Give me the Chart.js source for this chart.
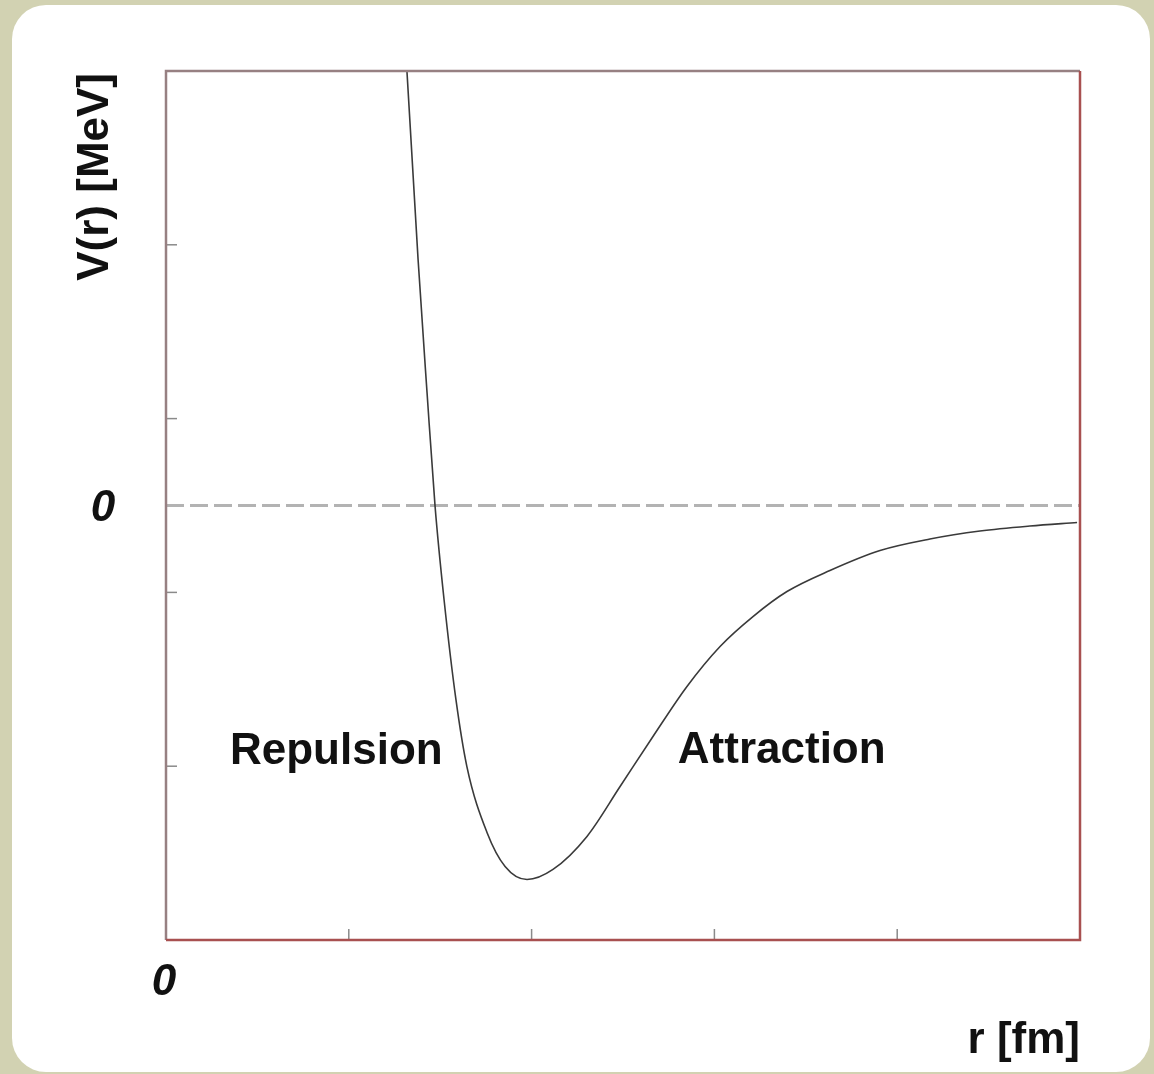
<!DOCTYPE html>
<html>
<head>
<meta charset="utf-8">
<script src="https://cdn.jsdelivr.net/npm/chart.js@4/dist/chart.umd.min.js"></script>
<style>
  html, body { margin: 0; padding: 0; background: #d2d2b2; }
  #wrap { width: 1154px; height: 1074px; }
</style>
</head>
<body>
<div id="wrap"><canvas id="chart" width="1154" height="1074"></canvas></div>
<script>
// potential curve V(r)
const rValues = [1.29, 1.318, 1.379, 1.428, 1.472, 1.521, 1.586, 1.646, 1.756, 1.855, 1.975, 2.117, 2.303, 2.484, 2.664, 2.850, 3.031, 3.211, 3.397, 3.632, 3.906, 4.179, 4.453, 4.726, 4.984];
const vValues = [3.03, 2.5, 1.415, 0.65, -0.006, -0.541, -1.116, -1.502, -1.881, -2.077, -2.152, -2.094, -1.904, -1.617, -1.329, -1.041, -0.811, -0.639, -0.495, -0.374, -0.259, -0.193, -0.147, -0.118, -0.098];

const xTicks = [1, 2, 3, 4];
const yTicks = [-1.5, -0.5, 0.5, 1.5];
const xRange = [0, 5];
const yRange = [-2.5, 2.5];

const regionLabels = [
  { text: 'Repulsion', r: 0.35, v: -1.49 },
  { text: 'Attraction', r: 2.80, v: -1.48 }
];

const points = rValues.map((r, i) => ({ x: r, y: vValues[i] }));

const FONT = '"Liberation Sans", Arial, Helvetica, sans-serif';

const background = {
  id: 'background',
  beforeDraw(chart) {
    const ctx = chart.ctx;
    ctx.save();
    ctx.fillStyle = '#d2d2b2';
    ctx.fillRect(0, 0, chart.width, chart.height);
    ctx.fillStyle = '#ffffff';
    ctx.beginPath();
    ctx.roundRect(12, 5, 1138, 1067, 34);
    ctx.fill();
    ctx.restore();
  }
};

const frame = {
  id: 'frame',
  beforeDatasetsDraw(chart) {
    const { ctx, chartArea: a, scales: { y } } = chart;
    ctx.save();
    // zero line
    ctx.strokeStyle = '#b3b3b3';
    ctx.lineWidth = 3;
    ctx.setLineDash([18, 6]);
    const y0 = y.getPixelForValue(0);
    ctx.beginPath();
    ctx.moveTo(a.left, y0);
    ctx.lineTo(a.right, y0);
    ctx.stroke();
    ctx.restore();
  },
  afterDatasetsDraw(chart) {
    const { ctx, chartArea: a, scales: { x, y } } = chart;
    ctx.save();
    // inward ticks
    ctx.strokeStyle = '#8a8a8a';
    ctx.lineWidth = 1.5;
    xTicks.forEach(t => {
      const px = x.getPixelForValue(t);
      ctx.beginPath();
      ctx.moveTo(px, a.bottom);
      ctx.lineTo(px, a.bottom - 11);
      ctx.stroke();
    });
    yTicks.forEach(t => {
      const py = y.getPixelForValue(t);
      ctx.beginPath();
      ctx.moveTo(a.left, py);
      ctx.lineTo(a.left + 11, py);
      ctx.stroke();
    });
    // box
    ctx.lineWidth = 2.5;
    ctx.strokeStyle = '#978082';
    ctx.beginPath();
    ctx.moveTo(a.left, a.bottom);
    ctx.lineTo(a.left, a.top);
    ctx.lineTo(a.right, a.top);
    ctx.stroke();
    ctx.strokeStyle = '#a85050';
    ctx.beginPath();
    ctx.moveTo(a.right, a.top);
    ctx.lineTo(a.right, a.bottom);
    ctx.lineTo(a.left, a.bottom);
    ctx.stroke();

    // texts
    ctx.fillStyle = '#111111';
    ctx.font = 'bold 44px ' + FONT;
    ctx.textBaseline = 'alphabetic';
    regionLabels.forEach(l => {
      ctx.textAlign = 'left';
      ctx.fillText(l.text, x.getPixelForValue(l.r), y.getPixelForValue(l.v));
    });
    ctx.textAlign = 'right';
    ctx.fillText('r [fm]', a.right, a.bottom + 113);
    ctx.save();
    ctx.translate(a.left - 58, a.top + 2);
    ctx.rotate(-Math.PI / 2);
    ctx.textAlign = 'right';
    ctx.fillText('V(r) [MeV]', 0, 0);
    ctx.restore();

    ctx.font = 'bold italic 44px ' + FONT;
    ctx.textAlign = 'center';
    ctx.fillText('0', a.left - 63, y.getPixelForValue(0) + 15);
    ctx.fillText('0', x.getPixelForValue(0) - 2, a.bottom + 55);
    ctx.restore();
  }
};

new Chart(document.getElementById('chart'), {
  type: 'scatter',
  data: {
    datasets: [{
      data: points,
      showLine: true,
      borderColor: '#3a3a3a',
      borderWidth: 1.6,
      pointRadius: 0,
      cubicInterpolationMode: 'monotone'
    }]
  },
  options: {
    responsive: false,
    animation: false,
    layout: { padding: { left: 166, top: 71, right: 74, bottom: 134 } },
    plugins: { legend: { display: false }, tooltip: { enabled: false } },
    scales: {
      x: { type: 'linear', min: xRange[0], max: xRange[1], display: false },
      y: { type: 'linear', min: yRange[0], max: yRange[1], display: false }
    }
  },
  plugins: [background, frame]
});
</script>
</body>
</html>
